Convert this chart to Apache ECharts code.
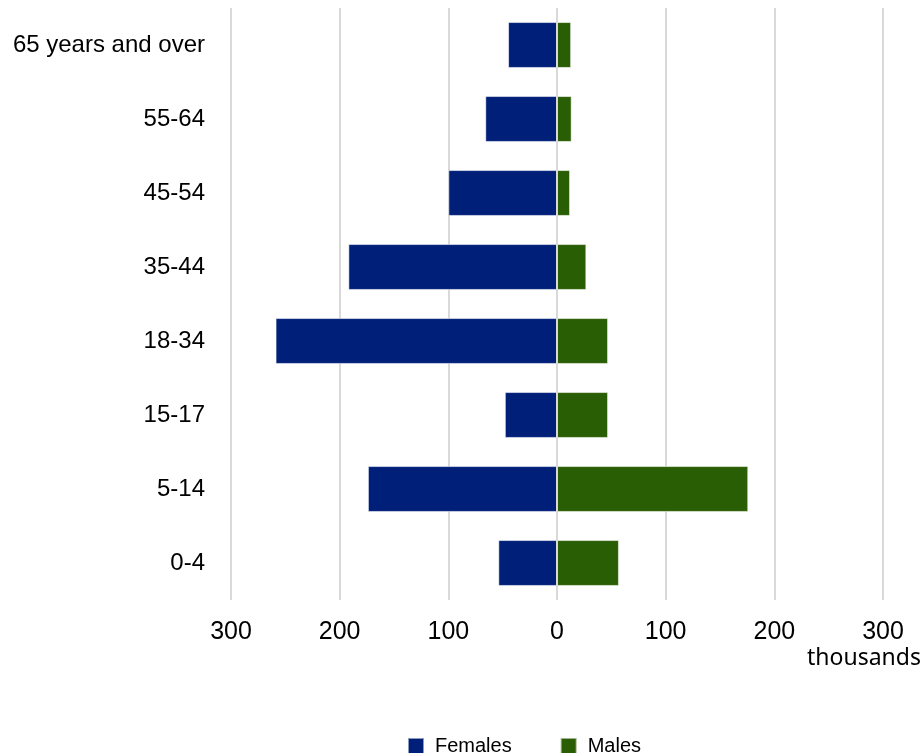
<!DOCTYPE html>
<html>
<head>
<meta charset="utf-8">
<script src="https://cdn.jsdelivr.net/npm/echarts@6/dist/echarts.min.js"></script>
<style>
  html, body { margin: 0; padding: 0; background: #ffffff; }
  #chart { width: 924px; height: 753px; }
</style>
</head>
<body>
<div id="chart"></div>
<script>
// Age groups, listed top to bottom
const ageGroups = ['65 years and over', '55-64', '45-54', '35-44', '18-34', '15-17', '5-14', '0-4'];
// Population in thousands
const females = [45, 66, 100, 192, 259, 48, 174, 54];
const males = [13, 13.5, 12, 27, 47, 47, 176, 57];
const xTicks = [-300, -200, -100, 0, 100, 200, 300];

const FEMALE_COLOR = '#001f78';
const MALE_COLOR = '#2a5e04';
const TEXT_FONT = '"Liberation Sans", Arial, sans-serif';

const chart = echarts.init(document.getElementById('chart'), null, { renderer: 'canvas' });

chart.setOption({
  animation: false,
  backgroundColor: '#ffffff',
  grid: { left: 231, right: 41, top: 8, bottom: 153, containLabel: false },
  xAxis: {
    type: 'value',
    min: xTicks[0],
    max: xTicks[xTicks.length - 1],
    interval: 100,
    axisLine: { show: false },
    axisTick: { show: false },
    splitLine: { show: true, lineStyle: { color: '#d9d9d9', width: 2 } },
    axisLabel: {
      margin: 20,
      color: '#000000',
      fontSize: 25,
      fontFamily: TEXT_FONT,
      formatter: v => String(Math.abs(v))
    }
  },
  yAxis: {
    type: 'category',
    data: ageGroups,
    inverse: true,
    axisLine: { show: false },
    axisTick: { show: false },
    splitLine: { show: false },
    axisLabel: {
      margin: 26,
      color: '#000000',
      fontSize: 24,
      fontFamily: TEXT_FONT
    }
  },
  legend: {
    top: 736,
    left: 407,
    padding: 0,
    itemWidth: 16,
    itemHeight: 16,
    itemGap: 48,
    icon: 'rect',
    textStyle: { color: '#000000', fontSize: 20, fontFamily: TEXT_FONT, padding: [0, 0, 0, 6] },
    data: ['Females', 'Males']
  },
  series: [
    {
      name: 'Females',
      type: 'bar',
      stack: 'pop',
      data: females.map(v => -v),
      barCategoryGap: '38%',
      itemStyle: { color: FEMALE_COLOR, borderColor: 'rgba(255,255,255,0.55)', borderWidth: 1 },
      markLine: {
        silent: true,
        symbol: 'none',
        label: { show: false },
        lineStyle: { color: '#d9d9d9', width: 2, type: 'solid' },
        data: [{ xAxis: 0 }],
        z: 10
      }
    },
    {
      name: 'Males',
      type: 'bar',
      stack: 'pop',
      data: males,
      barCategoryGap: '38%',
      itemStyle: { color: MALE_COLOR, borderColor: 'rgba(255,255,255,0.55)', borderWidth: 1 }
    }
  ],
  graphic: [
    {
      type: 'text',
      right: 3,
      top: 647,
      style: {
        text: 'thousands',
        fill: '#000000',
        font: '23px "Noto Sans", "DejaVu Sans", sans-serif'
      }
    }
  ]
});
</script>
</body>
</html>
